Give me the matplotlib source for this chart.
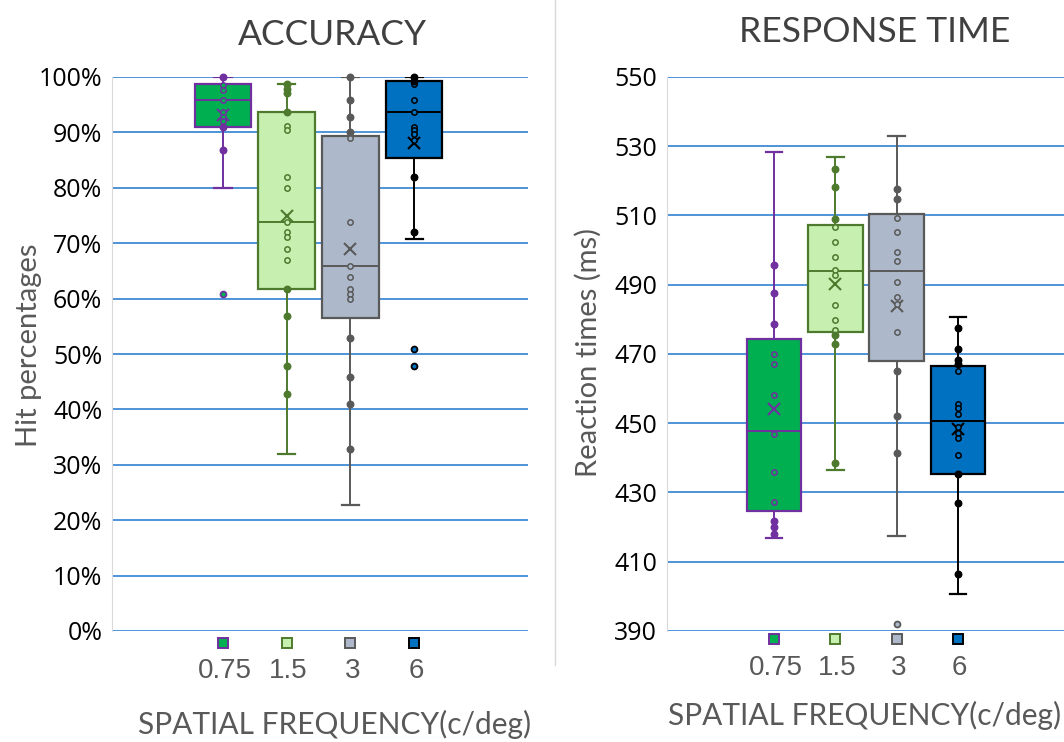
import matplotlib.pyplot as plt
import matplotlib.transforms as mtransforms
from matplotlib.lines import Line2D
from matplotlib.ticker import FuncFormatter

plt.rcParams['font.family'] = ['Open Sans', 'DejaVu Sans']

freqs = ['0.75', '1.5', '3', '6']
fills = ['#00B050', '#C6EFB0', '#ADB9CA', '#0070C0']
edges = ['#7030A0', '#4E7A2E', '#595959', '#000000']

# accuracy (% hits) box statistics per spatial frequency
acc_lo = [80.0, 32.0, 22.8, 70.8]
acc_q1 = [90.9, 61.8, 56.5, 85.4]
acc_med = [95.8, 73.9, 65.9, 93.7]
acc_q3 = [98.8, 93.7, 89.3, 99.3]
acc_hi = [100.0, 98.7, 100.0, 100.0]
acc_mean = [93.1, 74.9, 69.0, 88.0]
acc_points = [
    [100, 98.5, 97.6, 95.8, 93.7, 92.8, 92.0, 90.9, 86.9, 60.8],
    [98.7, 97.9, 97.1, 93.7, 91.1, 90.5, 81.9, 79.9, 73.9, 72.1, 71.1, 69.0, 66.9,
     61.8, 56.8, 47.9, 42.8],
    [100, 95.8, 92.8, 90.1, 88.9, 73.9, 65.9, 63.9, 61.7, 60.8, 59.9, 52.8, 45.9,
     40.9, 32.8],
    [100, 99.3, 98.7, 95.8, 93.7, 91.0, 90.4, 89.8, 88.7, 81.9, 72.0, 50.9, 47.8],
]

# reaction times (ms)
rt_lo = [417.0, 436.4, 417.5, 400.6]
rt_q1 = [424.7, 476.3, 468.0, 435.2]
rt_med = [447.7, 494.0, 494.0, 450.7]
rt_q3 = [474.2, 507.2, 510.4, 466.6]
rt_hi = [528.2, 527.0, 532.9, 480.7]
rt_mean = [454.2, 490.1, 483.8, 448.2]
rt_points = [
    [495.8, 487.7, 478.8, 469.9, 467.2, 458.2, 446.8, 435.8, 427.4, 421.9, 420.0, 417.9],
    [523.3, 518.3, 509.1, 506.6, 502.3, 498.0, 494.2, 492.7, 484.1, 479.7, 476.9,
     475.4, 472.8, 438.6],
    [517.7, 514.9, 509.4, 505.1, 499.6, 496.8, 490.8, 486.5, 484.4, 476.3, 465.2,
     452.1, 441.4, 391.9],
    [477.6, 471.3, 468.2, 467.1, 465.0, 455.7, 454.3, 452.8, 448.9, 447.3, 445.6,
     440.7, 435.2, 426.9, 406.4],
]

W, H = 1064, 742
fig = plt.figure(figsize=(W / 100, H / 100), dpi=100)


def px(x, y):
    return x / W, 1 - y / H


def draw_panel(ax, lo, q1, med, q3, hi, mean, points):
    for i in range(4):
        st = dict(whislo=lo[i], q1=q1[i], med=med[i], q3=q3[i], whishi=hi[i],
                  mean=mean[i], fliers=[])
        ec = edges[i]
        ax.bxp([st], positions=[i], widths=0.89, capwidths=0.27, patch_artist=True,
               showmeans=True, showfliers=False,
               boxprops=dict(facecolor=fills[i], edgecolor=ec, linewidth=1.6),
               medianprops=dict(color=ec, linewidth=1.4),
               whiskerprops=dict(color=ec, linewidth=1.4),
               capprops=dict(color=ec, linewidth=1.6),
               meanprops=dict(marker='x', markeredgecolor=ec, markersize=8.5,
                              markeredgewidth=1.5),
               zorder=2, manage_ticks=False)
        inner = [v for v in points[i] if q1[i] < v < q3[i]]
        outer = [v for v in points[i] if lo[i] <= v <= hi[i] and not q1[i] < v < q3[i]]
        flier = [v for v in points[i] if v < lo[i] or v > hi[i]]
        ax.scatter([i] * len(inner), inner, s=15, facecolor=fills[i], edgecolor=ec,
                   linewidth=1.1, zorder=4, clip_on=False)
        ax.scatter([i] * len(outer), outer, s=22, color=ec, zorder=4, clip_on=False)
        ax.scatter([i] * len(flier), flier, s=18, facecolor=fills[i], edgecolor=ec,
                   linewidth=1.3, zorder=4, clip_on=False)

    ax.grid(axis='y', color='#4F93D8', linewidth=1.4)
    ax.set_axisbelow(True)
    for s in ['top', 'right', 'bottom']:
        ax.spines[s].set_visible(False)
    ax.spines['left'].set_color('#D9D9D9')
    ax.spines['left'].set_linewidth(0.8)
    ax.tick_params(axis='y', length=0, labelsize=18, pad=7, colors='black')
    ax.set_xticks([])


# ---- accuracy
ax1 = fig.add_axes([112 / W, 1 - 631 / H, 416 / W, 554 / H])
draw_panel(ax1, acc_lo, acc_q1, acc_med, acc_q3, acc_hi, acc_mean, acc_points)
ax1.set_xlim(-1.743, 4.788)
ax1.set_ylim(0, 100)
ax1.set_yticks(range(0, 101, 10))
ax1.yaxis.set_major_formatter(FuncFormatter(lambda v, p: '%d%%' % v))

# ---- response time
ax2 = fig.add_axes([667 / W, 1 - 631 / H, 407 / W, 554 / H])
draw_panel(ax2, rt_lo, rt_q1, rt_med, rt_q3, rt_hi, rt_mean, rt_points)
ax2.set_xlim(-1.745, 4.894)
ax2.set_ylim(390, 550)
ax2.set_yticks(range(390, 551, 20))

# legend squares and frequency labels under each panel
for ax, sq_y, lab_y in [(ax1, 643, 678), (ax2, 639, 675)]:
    trans = mtransforms.blended_transform_factory(ax.transData, fig.transFigure)
    for i, f in enumerate(freqs):
        ax.plot([i], [px(0, sq_y)[1]], marker='s', markersize=7.5, markerfacecolor=fills[i],
                markeredgecolor=edges[i], markeredgewidth=1.4, transform=trans,
                clip_on=False)
        ax.text(i + 0.03, px(0, lab_y)[1], f, transform=trans, ha='center', va='baseline',
                fontsize=20, color='#595959', family='Liberation Sans')

label_font = ['Lato', 'DejaVu Sans']
fig.text(*px(332, 45), 'ACCURACY', ha='center', va='baseline', fontsize=25.5,
         color='#404040', family=label_font)
fig.text(*px(875, 42), 'RESPONSE TIME', ha='center', va='baseline', fontsize=25.5,
         color='#404040', family=label_font)
fig.text(*px(37, 345), 'Hit percentages', rotation=90, rotation_mode='anchor',
         ha='center', va='baseline', fontsize=21, color='#595959', family=label_font)
fig.text(*px(597, 352), 'Reaction times (ms)', rotation=90, rotation_mode='anchor',
         ha='center', va='baseline', fontsize=21, color='#595959', family=label_font)
fig.text(*px(335, 734), 'SPATIAL FREQUENCY(c/deg)', ha='center', va='baseline',
         fontsize=21.5, color='#595959', family=label_font)
fig.text(*px(865, 725), 'SPATIAL FREQUENCY(c/deg)', ha='center', va='baseline',
         fontsize=21.5, color='#595959', family=label_font)

# thin divider between the two charts
fig.add_artist(Line2D([555 / W, 555 / W], [1, 1 - 665 / H], color='#D9D9D9',
                      linewidth=1.0))

fig.savefig('out.png', dpi=100)
